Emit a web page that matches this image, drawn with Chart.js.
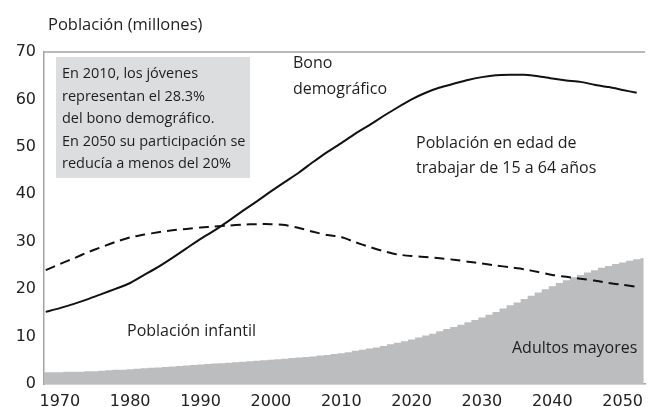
<!DOCTYPE html>
<html>
<head>
<meta charset="utf-8">
<script src="https://cdn.jsdelivr.net/npm/chart.js@4"></script>
<style>
  html, body { margin: 0; padding: 0; background: #fff; }
</style>
</head>
<body>
<canvas id="grafico" width="651" height="407"></canvas>
<script>
// años cada 2 años para las lineas
const anosLineas = [1968, 1970, 1972, 1974, 1976, 1978, 1980, 1982, 1984, 1986, 1988, 1990, 1992, 1994, 1996, 1998,
    2000, 2002, 2004, 2006, 2008, 2010, 2012, 2014, 2016, 2018, 2020, 2022, 2024, 2026, 2028, 2030,
    2032, 2034, 2036, 2038, 2040, 2042, 2044, 2046, 2048, 2050, 2052];

// poblacion en edad de trabajar (15 a 64)
const edadTrabajar = [15.2, 16.0, 16.9, 17.9, 19.0, 20.1, 21.3, 23.0, 24.7, 26.6, 28.6, 30.6, 32.4, 34.4, 36.5, 38.5,
    40.6, 42.6, 44.6, 46.8, 48.9, 50.8, 52.8, 54.6, 56.5, 58.3, 60.0, 61.4, 62.5, 63.3, 64.1, 64.7,
    65.1, 65.2, 65.2, 64.9, 64.4, 64.0, 63.7, 63.1, 62.6, 62.0, 61.4];

// poblacion infantil
const infantil = [24.0, 25.3, 26.5, 27.8, 28.9, 30.0, 30.9, 31.5, 32.0, 32.4, 32.7, 33.0, 33.2, 33.4, 33.6, 33.7,
    33.7, 33.5, 32.9, 32.1, 31.4, 31.0, 29.9, 28.9, 28.0, 27.3, 27.0, 26.8, 26.5, 26.2, 25.8, 25.4,
    25.0, 24.6, 24.2, 23.6, 23.0, 22.6, 22.2, 21.8, 21.3, 20.9, 20.5];

// adultos mayores, un valor por año desde 1967
const anosMayores = [];
for (let a = 1967; a <= 2053; a++) anosMayores.push(a);
const mayores = [2.5, 2.5, 2.5, 2.5, 2.6, 2.6, 2.6, 2.7, 2.7, 2.8, 2.9, 3.0, 3.0,
    3.1, 3.2, 3.3, 3.4, 3.5, 3.6, 3.7, 3.8, 3.9, 4.0,
    4.1, 4.2, 4.3, 4.4, 4.5, 4.6, 4.7, 4.8, 4.9, 5.0,
    5.1, 5.2, 5.3, 5.5, 5.6, 5.7, 5.8, 6.0, 6.1, 6.3,
    6.5, 6.7, 7.0, 7.2, 7.5, 7.7, 8.0, 8.4, 8.7, 9.0,
    9.4, 9.8, 10.2, 10.6, 11.1, 11.6, 12.0, 12.5, 13.0, 13.5,
    14.0, 14.6, 15.2, 15.9, 16.6, 17.2, 17.9, 18.6, 19.3, 20.0,
    20.6, 21.3, 21.9, 22.5, 23.0, 23.5, 24.0, 24.5, 24.9, 25.3,
    25.6, 26.0, 26.3, 26.5];

const ticksX = [1970, 1980, 1990, 2000, 2010, 2020, 2030, 2040, 2050];
const ticksY = [0, 10, 20, 30, 40, 50, 60, 70];

const notaCaja = ["En 2010, los jóvenes", "representan el 28.3%", "del bono demográfico.",
    "En 2050 su participación se", "reducía a menos del 20%"];

function puntos(xs, ys) {
    return xs.map((x, i) => ({ x: x, y: ys[i] }));
}

const textos = {
    id: "textos",
    afterDraw(chart) {
        const ctx = chart.ctx;
        const area = chart.chartArea;
        ctx.save();
        // linea superior
        ctx.strokeStyle = "#a3a3a3";
        ctx.lineWidth = 1.5;
        ctx.beginPath();
        ctx.moveTo(area.left, area.top);
        ctx.lineTo(area.right, area.top);
        ctx.stroke();

        // caja gris
        ctx.fillStyle = "#dcdddf";
        ctx.fillRect(56, 57, 194, 121);

        ctx.fillStyle = "#1e1e1e";
        ctx.textBaseline = "alphabetic";
        ctx.textAlign = "left";
        ctx.font = "14.5px 'Open Sans'";
        notaCaja.forEach((linea, i) => {
            ctx.fillText(linea, 62, 78 + i * 22.6);
        });

        ctx.font = "16.5px 'Open Sans'";
        ctx.fillText("Población (millones)", 48, 30);
        ctx.font = "16px 'Open Sans'";
        ctx.fillText("Bono", 293, 68);
        ctx.fillText("demográfico", 293, 94);
        ctx.fillText("Población en edad de", 416, 148);
        ctx.fillText("trabajar de 15 a 64 años", 416, 173);
        ctx.fillText("Población infantil", 127, 336);
        ctx.fillText("Adultos mayores", 512, 353);
        ctx.restore();
    }
};

const grafico = new Chart(document.getElementById("grafico"), {
    type: "line",
    data: {
        datasets: [{
            label: "Población en edad de trabajar",
            data: puntos(anosLineas, edadTrabajar),
            borderColor: "#111",
            borderWidth: 2,
            pointRadius: 0,
            tension: 0.2,
            fill: false
        }, {
            label: "Población infantil",
            data: puntos(anosLineas, infantil),
            borderColor: "#111",
            borderWidth: 2,
            borderDash: [10, 6],
            pointRadius: 0,
            tension: 0.2,
            fill: false
        }, {
            label: "Adultos mayores",
            data: puntos(anosMayores, mayores),
            borderWidth: 0,
            borderColor: "rgba(0,0,0,0)",
            backgroundColor: "#bcbdbf",
            pointRadius: 0,
            stepped: "middle",
            fill: "origin"
        }]
    },
    options: {
        responsive: false,
        animation: false,
        layout: { padding: { top: 52, right: 0, bottom: 0, left: 0 } },
        plugins: {
            legend: { display: false },
            tooltip: { enabled: false }
        },
        scales: {
            x: {
                type: "linear",
                min: 1967.75,
                max: 2053.2,
                grid: { display: false, drawTicks: false },
                border: { display: true, color: "#a3a3a3", width: 1.5 },
                afterBuildTicks: (scale) => { scale.ticks = ticksX.map(v => ({ value: v })); },
                afterFit: (scale) => { scale.height = 23; },
                ticks: {
                    padding: 8,
                    color: "#222",
                    font: { family: "DejaVu Sans", size: 16 },
                    maxRotation: 0,
                    callback: (v) => String(v)
                }
            },
            y: {
                min: 0,
                max: 70,
                grid: { display: false, drawTicks: false },
                border: { display: true, color: "#a3a3a3", width: 1.5 },
                afterBuildTicks: (scale) => { scale.ticks = ticksY.map(v => ({ value: v })); },
                afterFit: (scale) => { scale.width = 44; },
                ticks: {
                    padding: 8,
                    color: "#222",
                    font: { family: "DejaVu Sans", size: 16 }
                }
            }
        }
    },
    plugins: [textos]
});
</script>
</body>
</html>
